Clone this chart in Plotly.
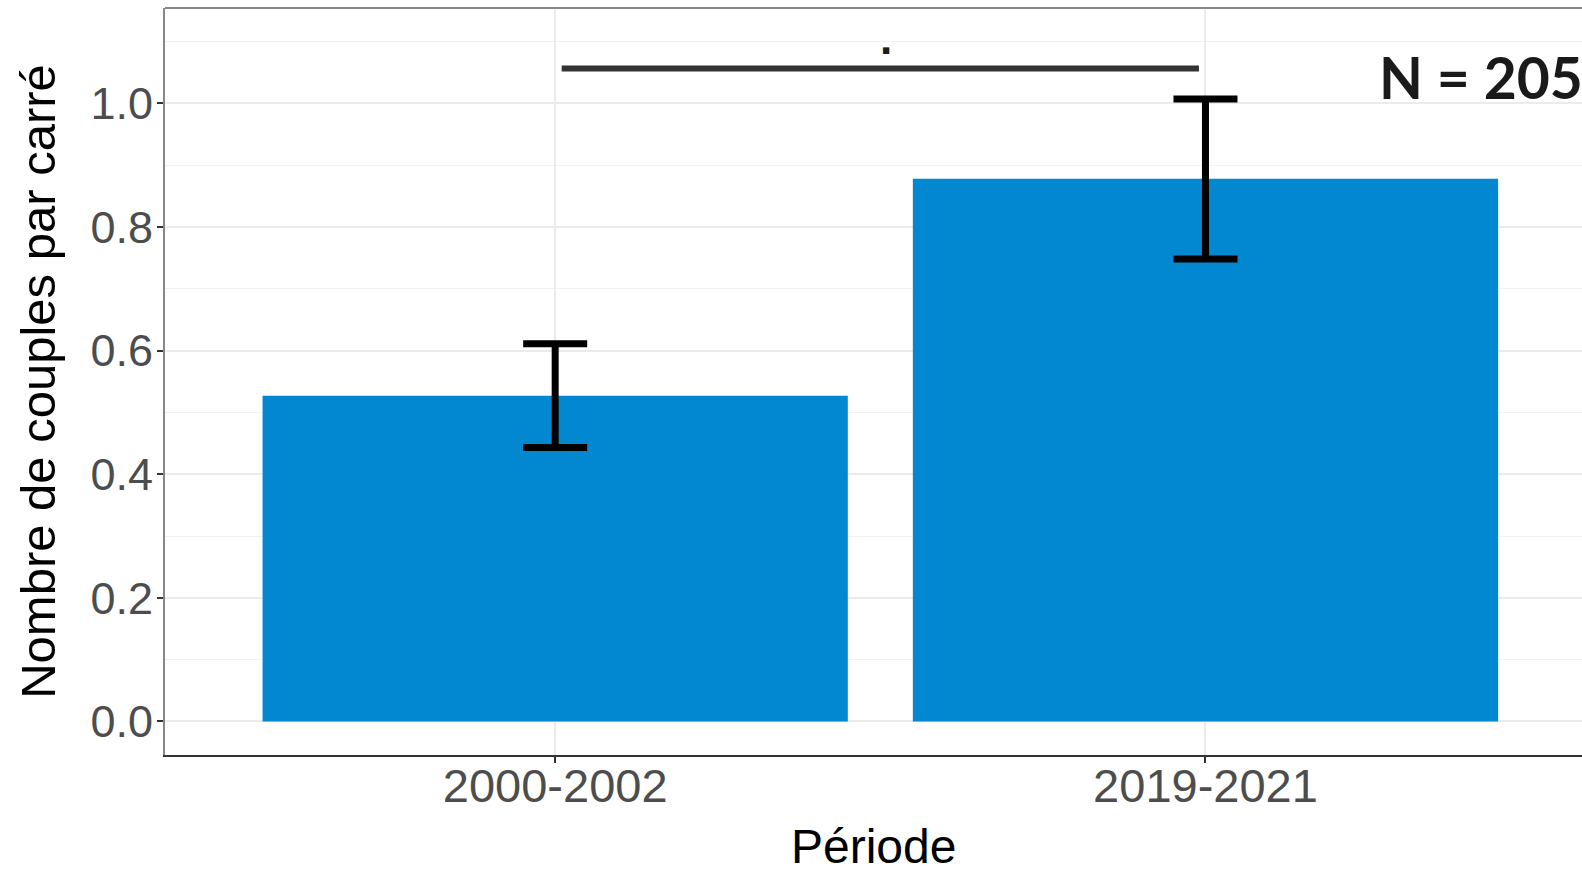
import plotly.graph_objects as go

categories = ["2000-2002", "2019-2021"]
values = [0.527, 0.878]
err_high = [0.611, 1.007]
err_low = [0.443, 0.748]
y_ticks = [0.0, 0.2, 0.4, 0.6, 0.8, 1.0]
y_tick_labels = ["0.0", "0.2", "0.4", "0.6", "0.8", "1.0"]
sig_y = 1.056
sig_label = "."
n_label = "N = 205"
x_title = "Période"
y_title = "Nombre de couples par carré"

err_plus = [h - v for h, v in zip(err_high, values)]
err_minus = [v - l for l, v in zip(err_low, values)]

fig = go.Figure()
fig.add_trace(go.Bar(
    x=[0, 1], y=values, width=0.9,
    marker=dict(color="#0288D1", line=dict(width=0)),
    error_y=dict(type="data", symmetric=False, array=err_plus, arrayminus=err_minus,
                 color="#000000", thickness=7, width=32),
    showlegend=False,
))

# significance bar
fig.add_shape(type="line", x0=0.01, x1=0.99, y0=sig_y, y1=sig_y,
              xref="x", yref="y", line=dict(color="#333333", width=6), layer="above")
fig.add_annotation(x=0.508, y=sig_y, xref="x", yref="y", text="<b>" + sig_label + "</b>", showarrow=False,
                   yanchor="bottom", yshift=4, font=dict(family="Liberation Sans", size=44, color="#1a1a1a"))

fig.add_annotation(x=1, y=1.0, xref="paper", yref="y", text="<b>" + n_label + "</b>",
                   showarrow=False, xanchor="right", yanchor="middle", xshift=3, yshift=26,
                   font=dict(family="Lato", size=57, color="#1a1a1a"))

# x axis title
fig.add_annotation(x=0.5, y=0, xref="paper", yref="paper", text=x_title, showarrow=False,
                   xanchor="center", yanchor="middle", yshift=-91, borderpad=0,
                   font=dict(family="Liberation Sans", size=48, color="#000000"))

# top border
fig.add_shape(type="line", xref="paper", yref="paper", x0=0, x1=1, y0=1, y1=1,
              line=dict(color="#888888", width=2))

fig.update_layout(
    width=1582, height=873,
    margin=dict(l=165, r=0, t=8, b=118),
    plot_bgcolor="white", paper_bgcolor="white",
    font=dict(family="Liberation Sans"),
    xaxis=dict(
        range=[-0.6, 1.579],
        tickmode="array", tickvals=[0, 1], ticktext=categories,
        showgrid=True, gridcolor="#EBEBEB", gridwidth=2,
        showline=True, linecolor="#333333", linewidth=2,
        ticks="outside", ticklen=6, tickwidth=2, tickcolor="#333333",
        tickfont=dict(size=47, color="#4D4D4D"),
        ticklabelstandoff=-17,
        zeroline=False, fixedrange=True,
    ),
    yaxis=dict(
        range=[-0.0542, 1.154],
        tickmode="array", tickvals=y_ticks, ticktext=y_tick_labels,
        showgrid=True, gridcolor="#EBEBEB", gridwidth=2,
        minor=dict(dtick=0.1, tick0=0.1, showgrid=True, gridcolor="#F2F2F2", gridwidth=1, ticks=""),
        showline=True, linecolor="#888888", linewidth=2,
        ticks="outside", ticklen=6, tickwidth=2, tickcolor="#333333",
        tickfont=dict(size=45, color="#4D4D4D"),
        ticklabelstandoff=-5,
        title=dict(text=y_title, font=dict(size=49, color="#000000"), standoff=19),
        zeroline=False, fixedrange=True,
    ),
)

fig.write_html("out.html", config={"displayModeBar": False},
               post_script="document.body.style.margin='0';document.body.style.overflow='hidden';")
